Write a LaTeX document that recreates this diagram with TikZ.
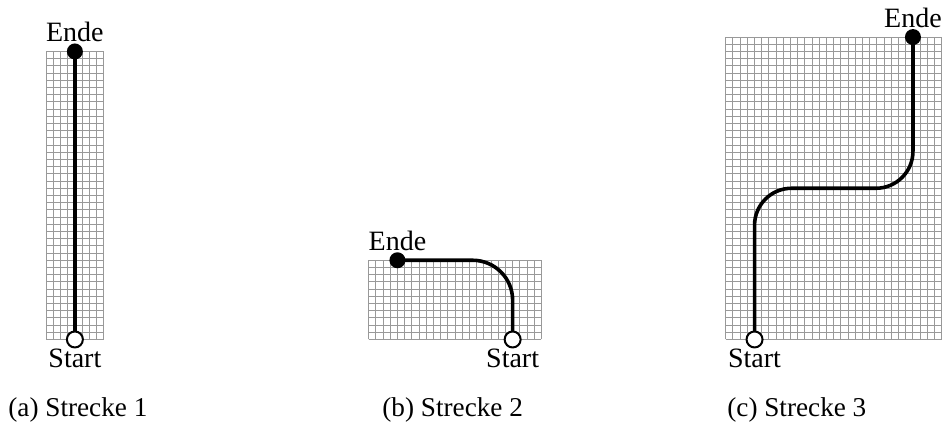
\documentclass[tikz,border=0pt]{standalone}
\usepackage{fontspec}
\setmainfont{Liberation Serif}
\usetikzlibrary{calc}
\begin{document}
\begin{tikzpicture}[x=3.6pt,y=3.6pt,
  gridlines/.style={draw=black!40, line width=0.5pt, step=3.6pt},
  route/.style={line width=1.8pt, black},
  enddot/.style={circle, fill=black, minimum size=8pt, inner sep=0pt},
  startdot/.style={circle, fill=white, draw=black, line width=1pt, minimum size=8pt, inner sep=0pt},
  lbl/.style={font=\fontsize{14}{16}\selectfont, inner sep=0pt, anchor=base},
  captext/.style={font=\fontsize{13.6}{16}\selectfont, inner sep=0pt, anchor=base west}]
\useasboundingbox (0,-12.29) rectangle (131.39,47.15);
% grids
\draw[gridlines,shift={(6.4,0)}] (0,0) grid (8,40);
\draw[gridlines,shift={(51.2,0)}] (0,0) grid (24,11);
\draw[gridlines,shift={(100.8,0)}] (0,0) grid (30,42);
% coordinates
\coordinate (as) at (10.4,0);
\coordinate (ae) at (10.4,40);
\coordinate (bs) at (71.2,0);
\coordinate (be) at (55.2,11);
\coordinate (cs) at (104.8,0);
\coordinate (ce) at (126.8,42);
% routes
\draw[route] (as) -- (ae);
\draw[route, rounded corners=20pt] (bs) |- (be);
\draw[route, rounded corners=18.5pt] (cs) |- ($(cs)!0.5!(ce)$) -| (ce);
% dots
\node[startdot] (a-start) at (as) {};
\node[enddot] (a-end) at (ae) {};
\node[startdot] (b-start) at (bs) {};
\node[enddot] (b-end) at (be) {};
\node[startdot] (c-start) at (cs) {};
\node[enddot] (c-end) at (ce) {};
% labels
\node[lbl] (a-el) at ($(ae)+(0,1.36)$) {Ende};
\node[lbl] (a-sl) at ($(as)+(0,-3.96)$) {Start};
\node[lbl] (b-el) at ($(be)+(0,1.36)$) {Ende};
\node[lbl] (b-sl) at ($(bs)+(0,-3.96)$) {Start};
\node[lbl] (c-el) at ($(ce)+(0,1.36)$) {Ende};
\node[lbl] (c-sl) at ($(cs)+(0,-3.96)$) {Start};
% captions
\node[captext] (capa) at (1.11,-10.76) {(a) Strecke 1};
\node[captext] (capb) at (53.06,-10.76) {(b) Strecke 2};
\node[captext] (capc) at (100.97,-10.76) {(c) Strecke 3};
\end{tikzpicture}
\end{document}
